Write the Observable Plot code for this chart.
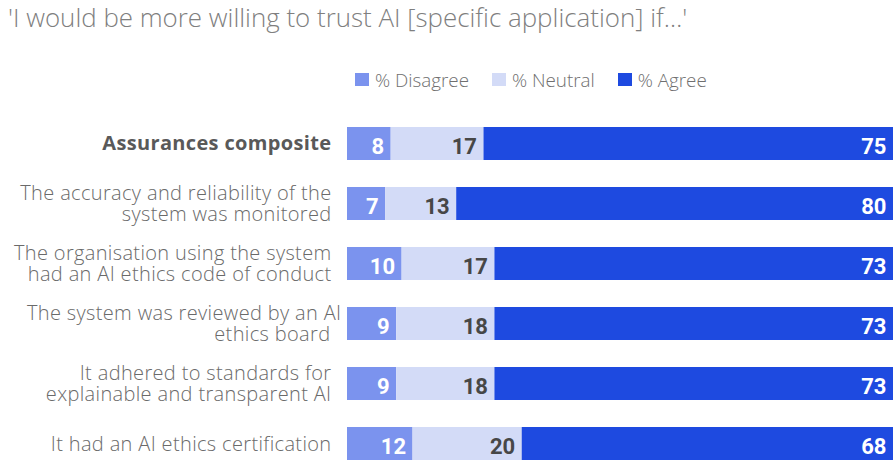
<!DOCTYPE html>
<html>
<head>
<meta charset="utf-8">
<script src="https://cdn.jsdelivr.net/npm/d3@7"></script>
<script src="https://cdn.jsdelivr.net/npm/@observablehq/plot@0.6"></script>
<style>
  html, body { margin: 0; padding: 0; background: #fff; }
  #wrap { position: relative; width: 893px; height: 461px; overflow: hidden; }
  #title {
    position: absolute; left: 8px; top: 4px;
    font-family: "Open Sans", "Liberation Sans", Arial, sans-serif; font-weight: 300;
    font-size: 25.9px; line-height: 26px; color: #7f7f7f; white-space: nowrap;
  }
  #legend { position: absolute; left: 0; top: 70.5px; width: 893px; }
  .kl-swatches {
    font-family: "Open Sans", "Liberation Sans", Arial, sans-serif !important; font-weight: 300;
    font-size: 18.8px !important; line-height: 18px; color: #6f6f6f;
    margin: 0 !important; padding-left: 355px; min-height: 0 !important;
  }
  .kl-swatch { margin-right: 23px !important; }
  .kl-swatch > svg { margin-right: 6px !important; }
  #chart { position: absolute; left: 0; top: 100px; }
  #chart g[aria-label="y-axis tick label"] { letter-spacing: 0.35px; }
</style>
</head>
<body>
<div id="wrap">
  <div id="title">'I would be more willing to trust AI [specific application] if…'</div>
  <div id="legend"></div>
  <div id="chart"></div>
</div>
<script>
// Survey statements, top to bottom
const labels = [
  "Assurances composite",
  "The accuracy and reliability of the\nsystem was monitored",
  "The organisation using the system\nhad an AI ethics code of conduct",
  "The system was reviewed by an AI\nethics board",
  "It adhered to standards for\nexplainable and transparent AI",
  "It had an AI ethics certification"
];
// Response shares (%)
const disagree = [8, 7, 10, 9, 9, 12];
const neutral  = [17, 13, 17, 18, 18, 20];
const agree    = [75, 80, 73, 73, 73, 68];

const responses = ["% Disagree", "% Neutral", "% Agree"];
const colors = ["#7b93ee", "#d3dbf7", "#1e4ae0"];

const rows = labels.flatMap((label, i) => [
  {label, response: responses[0], value: disagree[i]},
  {label, response: responses[1], value: neutral[i]},
  {label, response: responses[2], value: agree[i]}
]);

const color = {domain: responses, range: colors};

document.getElementById("legend").append(
  Plot.legend({color, legend: "swatches", className: "kl", swatchWidth: 14, swatchHeight: 13})
);

const valueFont = {fontFamily: "Roboto, 'Liberation Sans', Arial, sans-serif", fontSize: 22, fontWeight: "bold"};
const labelFont = "'Open Sans', 'Liberation Sans', Arial, sans-serif";
const labelStyle = {tickSize: 0, fontSize: 20, fontWeight: 300, lineHeight: 1.05, color: "#6a6a6a", label: null};

// the board statement's first line runs a little past the others
const boardLabel = labels[3];
const plainLabels = labels.slice(1).filter(d => d !== boardLabel);

const chart = Plot.plot({
  width: 893,
  height: 361,
  marginTop: 25,
  marginBottom: 0,
  marginLeft: 347,
  marginRight: 0,
  style: {fontFamily: labelFont, overflow: "visible"},
  x: {domain: [0, 100], axis: null},
  y: {domain: labels, paddingInner: 0.455, paddingOuter: 0, axis: null},
  color,
  marks: [
    Plot.barX(rows, Plot.stackX({x: "value", y: "label", fill: "response"})),
    Plot.text(rows, Plot.stackX2({
      x: "value", y: "label", z: "response",
      text: d => d.response === responses[1] ? "" : String(d.value),
      textAnchor: "end", dx: -7, dy: 3, fill: "white", ...valueFont
    })),
    Plot.text(rows, Plot.stackX2({
      x: "value", y: "label", z: "response",
      text: d => d.response === responses[1] ? String(d.value) : "",
      textAnchor: "end", dx: -7, dy: 3, fill: "#474747", ...valueFont
    })),
    Plot.axisY({ticks: plainLabels, tickPadding: 16, ...labelStyle}),
    Plot.axisY({
      ticks: [boardLabel], tickPadding: 6, ...labelStyle,
      tickFormat: d => d + "\u00a0\u00a0"
    }),
    Plot.axisY({
      ticks: [labels[0]], tickSize: 0, tickPadding: 16,
      fontSize: 20, fontWeight: "bold", color: "#595959", label: null
    })
  ]
});

document.getElementById("chart").append(chart);
</script>
</body>
</html>
